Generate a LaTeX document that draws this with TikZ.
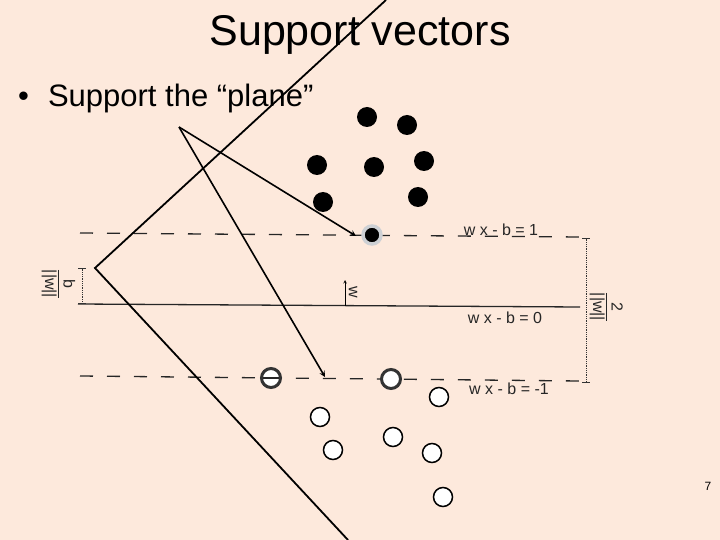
\documentclass[tikz,border=0pt]{standalone}
\usepackage{fontspec}
\setmainfont{Liberation Sans}
\usetikzlibrary{arrows, positioning}
\definecolor{slidebg}{RGB}{253,233,220}
\definecolor{halogray}{RGB}{205,208,212}

\begin{document}
\begin{tikzpicture}[x=1pt, y=-1pt,
    dotpos/.style={circle, fill=black, minimum size=20pt, inner sep=0pt},
    dotneg/.style={circle, draw=black, line width=1.5pt, fill=white, minimum size=19pt, inner sep=0pt},
    svpos/.style={circle, fill=black, draw=halogray, line width=3.5pt, minimum size=18pt, inner sep=0pt},
    svneg/.style={circle, draw=black!80, line width=3pt, fill=white, minimum size=19pt, inner sep=0pt},
    margin/.style={black!85, line width=1.3pt, dash pattern=on 13pt off 14pt},
    hyper/.style={black!85, line width=1.3pt},
    dimline/.style={black!80, line width=0.8pt, densely dotted},
    eqlabel/.style={font=\fontsize{16}{18}\selectfont, text=black!85, inner sep=0pt},
    arrow/.style={->, line width=1.6pt, >=stealth},
    plane/.style={line width=1.8pt}
]
\useasboundingbox (0,0) rectangle (720,540);
\fill[slidebg] (0,0) rectangle (720,540);

\node[font=\fontsize{43}{50}\selectfont, anchor=base, inner sep=0pt] (title) at (360,46) {Support vectors};
\node[font=\fontsize{31}{36}\selectfont, anchor=base west, inner sep=0pt] (item) at (18,107) {\textbullet\hspace{19pt}Support the “plane”};
\node[font=\fontsize{12}{14}\selectfont, inner sep=0pt] (pagenum) at (708,486) {7};

% margins and separating line
\coordinate (topL) at (80,233);
\coordinate (topR) at (580,237);
\coordinate (midL) at (78,304);
\coordinate (midR) at (580,307);
\coordinate (botL) at (80,376);
\coordinate (botR) at (580,381);
\draw[margin] (topL) -- (topR);
\draw[hyper] (midL) -- (midR);
\draw[margin] (botL) -- (botR);

% distances
\coordinate (offTop) at (82,268);
\coordinate (offBot) at (82,304);
\coordinate (gapTop) at (586,238);
\coordinate (gapBot) at (586,383);
\draw[dimline, |-|] (offTop) -- (offBot);
\draw[dimline, |-|] (gapTop) -- (gapBot);
\node[eqlabel, rotate=-90] (bnorm) at (58,284) {\begin{tabular}{@{}c@{}}b\\\hline ||w||\end{tabular}};
\node[eqlabel, rotate=-90] (twonorm) at (606,307) {\begin{tabular}{@{}c@{}}2\\\hline ||w||\end{tabular}};

% normal vector
\coordinate (wbase) at (345,306);
\coordinate (wtip) at (345,280);
\draw[->, >=stealth, line width=0.6pt] (wbase) -- (wtip);
\node[eqlabel, rotate=-90] (wlabel) at (353,292) {w};

\node[eqlabel] (eq1) at (501,230) {w x - b = 1};
\node[eqlabel] (eq0) at (505,318) {w x - b = 0};
\node[eqlabel] (eqm1) at (509,389) {w x - b = -1};

% positive class
\node[dotpos] (p1) at (367,117) {};
\node[dotpos] (p2) at (407,125) {};
\node[dotpos] (p3) at (317,165) {};
\node[dotpos] (p4) at (374,167) {};
\node[dotpos] (p5) at (424,161) {};
\node[dotpos] (p6) at (323,202) {};
\node[dotpos] (p7) at (418,197) {};
\node[svpos] (sv1) at (372,235) {};

% negative class
\node[svneg] (sv2) at (271,378) {};
\node[svneg] (sv3) at (391,379) {};
\draw[hyper, shorten <=3pt, shorten >=3pt] (sv2.west) -- (sv2.east);
\node[dotneg] (n1) at (320,417) {};
\node[dotneg] (n2) at (333,450) {};
\node[dotneg] (n3) at (393,437) {};
\node[dotneg] (n4) at (439,397) {};
\node[dotneg] (n5) at (432,453) {};
\node[dotneg] (n6) at (443,497) {};

% the "plane"
\coordinate (vtop) at (386,0);
\coordinate (vapex) at (95,268);
\coordinate (vbot) at (348,540);
\draw[plane] (vtop) -- (vapex) -- (vbot);

\coordinate (apex) at (179,127);
\coordinate (tipA) at (356,236);
\coordinate (tipB) at (325,377);
\draw[arrow] (apex) -- (tipA);
\draw[arrow] (apex) -- (tipB);
\end{tikzpicture}
\end{document}
